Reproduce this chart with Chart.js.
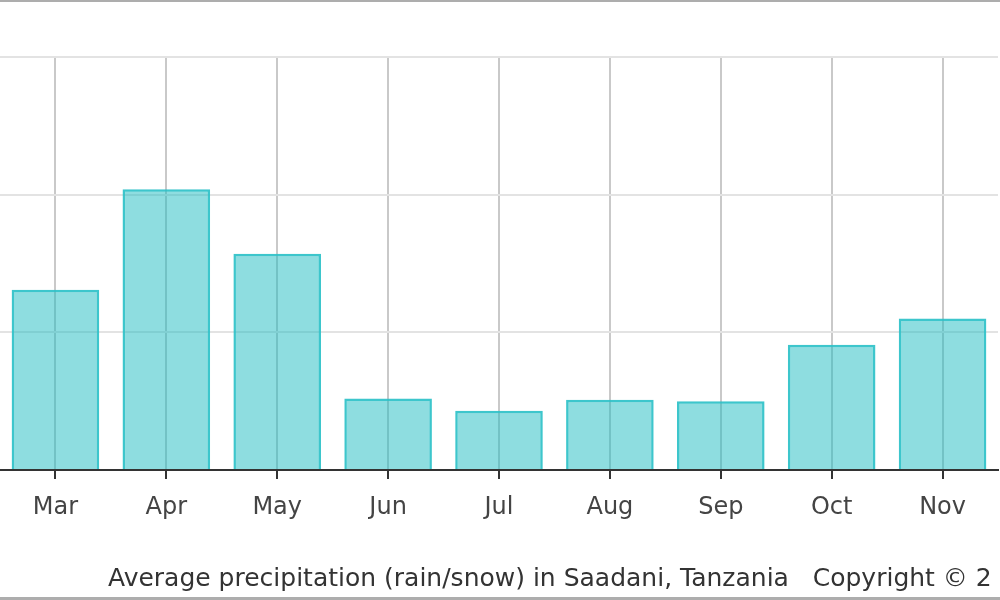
<!DOCTYPE html>
<html>
<head>
<meta charset="utf-8">
<script src="https://cdn.jsdelivr.net/npm/chart.js@4"></script>
<style>
  html, body { margin: 0; padding: 0; background: #fff; overflow: hidden; }
  #wrap { position: relative; width: 1000px; height: 600px; overflow: hidden; }
  #frameTop { position: absolute; left: 0; top: 0; width: 1000px; height: 2px; background: #adadad; }
  #frameBottom { position: absolute; left: 0; top: 597px; width: 1000px; height: 3px; background: #adadad; }
  #footer { position: absolute; left: 108px; top: 563px; white-space: nowrap; line-height: 29px;
            font-family: "DejaVu Sans", sans-serif; font-size: 25px; color: #333; }
</style>
</head>
<body>
<div id="wrap">
  <canvas id="c" width="1000" height="600"></canvas>
  <div id="frameTop"></div>
  <div id="frameBottom"></div>
  <div id="footer">Average precipitation (rain/snow) in Saadani, Tanzania&nbsp;&nbsp;&nbsp;Copyright © 2</div>
</div>
<script>
const categories = ["Mar", "Apr", "May", "Jun", "Jul", "Aug", "Sep", "Oct", "Nov"];
const precipitation = [131, 204, 157, 52, 43, 51, 50, 91, 110];
const yTicks = [0, 100, 200, 300];

new Chart(document.getElementById("c"), {
  type: "bar",
  data: {
    labels: categories,
    datasets: [{
      data: precipitation,
      backgroundColor: "rgba(30,188,194,0.5)",
      borderColor: "rgba(40,192,198,0.9)",
      borderWidth: 2.5,
      categoryPercentage: 0.79,
      barPercentage: 1
    }]
  },
  options: {
    responsive: false,
    animation: false,
    layout: { padding: { top: 57, right: 2, left: 0, bottom: 0 } },
    plugins: { legend: { display: false }, tooltip: { enabled: false }, title: { display: false } },
    scales: {
      x: {
        offset: true,
        grid: { offset: false, color: "#c9c9c9", lineWidth: 2, tickColor: "#333", tickLength: 9, drawTicks: true },
        border: { color: "#333", width: 2 },
        ticks: { color: "#444", padding: 14, font: { family: "DejaVu Sans", size: 24 } },
        afterFit: s => { s.height = 130; }
      },
      y: {
        min: 0, max: 300,
        afterBuildTicks: s => { s.ticks = yTicks.map(v => ({ value: v })); },
        grid: { color: "#e3e3e3", lineWidth: 2, drawTicks: false },
        border: { display: false },
        ticks: { display: false },
        afterFit: s => { s.width = 0; }
      }
    }
  }
});
</script>
</body>
</html>
